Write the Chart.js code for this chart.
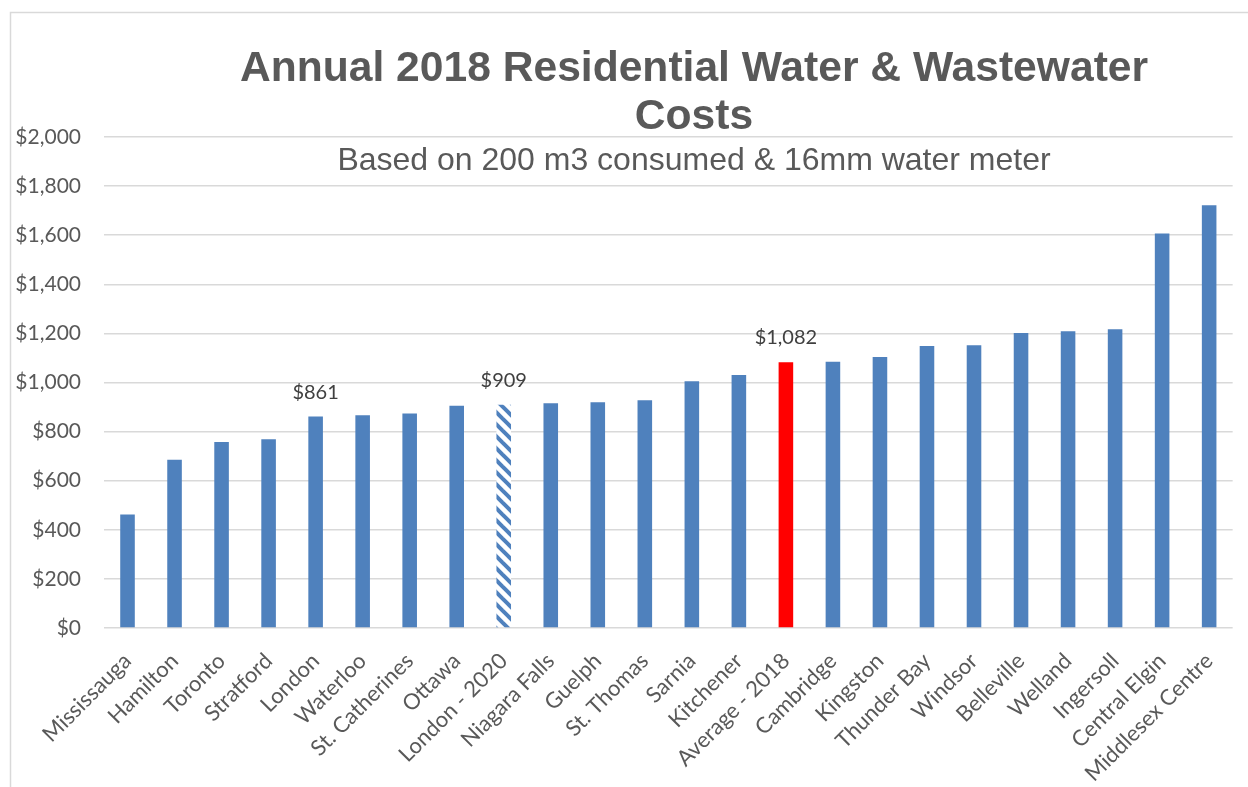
<!DOCTYPE html>
<html>
<head>
<meta charset="utf-8">
<title>Annual 2018 Residential Water & Wastewater Costs</title>
<script src="https://cdn.jsdelivr.net/npm/chart.js@4/dist/chart.umd.min.js"></script>
<style>
  html, body { margin: 0; padding: 0; background: #fff; }
  #wrap { width: 1248px; height: 787px; position: relative; }
</style>
</head>
<body>
<div id="wrap"><canvas id="costChart" width="1248" height="787"></canvas></div>
<script>
// municipalities, sorted by annual cost
const categories = [
    "Mississauga", "Hamilton", "Toronto", "Stratford", "London", "Waterloo",
    "St. Catherines", "Ottawa", "London - 2020", "Niagara Falls", "Guelph",
    "St. Thomas", "Sarnia", "Kitchener", "Average - 2018", "Cambridge",
    "Kingston", "Thunder Bay", "Windsor", "Belleville", "Welland",
    "Ingersoll", "Central Elgin", "Middlesex Centre"
];
const costs = [
    462, 685, 758, 769, 861, 867,
    874, 905, 909, 915, 920,
    928, 1005, 1031, 1082, 1085,
    1104, 1149, 1152, 1202, 1209,
    1217, 1607, 1722
];
const labelledBars = ["London", "London - 2020", "Average - 2018"];
const hatchedBars = ["London - 2020"];
const highlightBars = ["Average - 2018"];
const yTicks = [0, 200, 400, 600, 800, 1000, 1200, 1400, 1600, 1800, 2000];

const titleLines = ["Annual 2018 Residential Water & Wastewater", "Costs"];
const subtitle = "Based on 200 m3 consumed & 16mm water meter";

const BLUE = "#4F81BD";
const RED = "#FF0000";
const GREY_TEXT = "#595959";
const GRID = "#D9D9D9";
const FONT_FAMILY = "Lato, 'Open Sans', sans-serif";

function money(v) {
    return "$" + v.toLocaleString("en-US");
}

// diagonal stripes for the projected 2020 bar
function makeHatch() {
    var c = document.createElement("canvas");
    c.width = 12;
    c.height = 12;
    var g = c.getContext("2d");
    g.fillStyle = "#fff";
    g.fillRect(0, 0, 12, 12);
    g.strokeStyle = BLUE;
    g.lineWidth = 4;
    for (let k = -1; k <= 1; k++) {
        g.beginPath();
        g.moveTo(k * 12 - 2, -2);
        g.lineTo(k * 12 + 14, 14);
        g.stroke();
    }
    return g.createPattern(c, "repeat");
}

const hatch = makeHatch();
const barColors = categories.map((name) => {
    if (hatchedBars.includes(name)) return hatch;
    if (highlightBars.includes(name)) return RED;
    return BLUE;
});

// frame, title block and value labels, drawn the way Excel overlays them
const decorations = {
    id: "decorations",
    beforeDraw(chart) {
        const ctx = chart.ctx;
        ctx.save();
        ctx.strokeStyle = GRID;
        ctx.lineWidth = 1.5;
        ctx.beginPath();
        ctx.moveTo(10.5, 787);
        ctx.lineTo(10.5, 12.5);
        ctx.lineTo(1248, 12.5);
        ctx.stroke();
        ctx.restore();
    },
    afterDraw(chart) {
        const ctx = chart.ctx;
        const cx = 694;
        ctx.save();
        ctx.fillStyle = GREY_TEXT;
        ctx.textAlign = "center";
        ctx.textBaseline = "alphabetic";
        ctx.font = "bold 42.6px 'Liberation Sans', Arial, sans-serif";
        ctx.fillText(titleLines[0], cx, 81);
        ctx.fillText(titleLines[1], cx, 129);
        ctx.font = "32px 'Liberation Sans', Arial, sans-serif";
        ctx.fillText(subtitle, cx, 170);
        ctx.restore();
    },
    afterDatasetsDraw(chart) {
        const ctx = chart.ctx;
        const meta = chart.getDatasetMeta(0);
        ctx.save();
        ctx.fillStyle = "#404040";
        ctx.textAlign = "center";
        ctx.textBaseline = "alphabetic";
        ctx.font = "20px " + FONT_FAMILY;
        labelledBars.forEach((name) => {
            const i = categories.indexOf(name);
            const bar = meta.data[i];
            ctx.fillText(money(costs[i]), bar.x, bar.y - 18);
        });
        ctx.restore();
    }
};

var ctx = document.getElementById("costChart").getContext("2d");
var costChart = new Chart(ctx, {
    type: "bar",
    data: {
        labels: categories,
        datasets: [{
            label: "Annual cost",
            data: costs,
            backgroundColor: barColors,
            borderWidth: 0,
            categoryPercentage: 1,
            barPercentage: 0.31
        }]
    },
    options: {
        responsive: false,
        animation: false,
        layout: {
            padding: { top: 137, right: 9, left: 0, bottom: 0 }
        },
        plugins: {
            legend: { display: false },
            title: { display: false },
            tooltip: { enabled: false }
        },
        scales: {
            x: {
                grid: { display: false, drawTicks: false },
                border: { display: false },
                ticks: {
                    autoSkip: false,
                    maxRotation: 45,
                    minRotation: 45,
                    padding: 20,
                    color: GREY_TEXT,
                    font: { family: FONT_FAMILY, size: 22 }
                },
                afterFit(scale) { scale.height = 159; }
            },
            y: {
                min: 0,
                max: 2000,
                afterBuildTicks(scale) {
                    scale.ticks = yTicks.map((v) => ({ value: v }));
                },
                grid: { color: GRID, lineWidth: 1.5, drawTicks: false },
                border: { display: false },
                ticks: {
                    padding: 23,
                    color: GREY_TEXT,
                    font: { family: FONT_FAMILY, size: 21 },
                    callback: (v) => money(v)
                },
                afterFit(scale) { scale.width = 104; }
            }
        }
    },
    plugins: [decorations]
});
</script>
</body>
</html>
